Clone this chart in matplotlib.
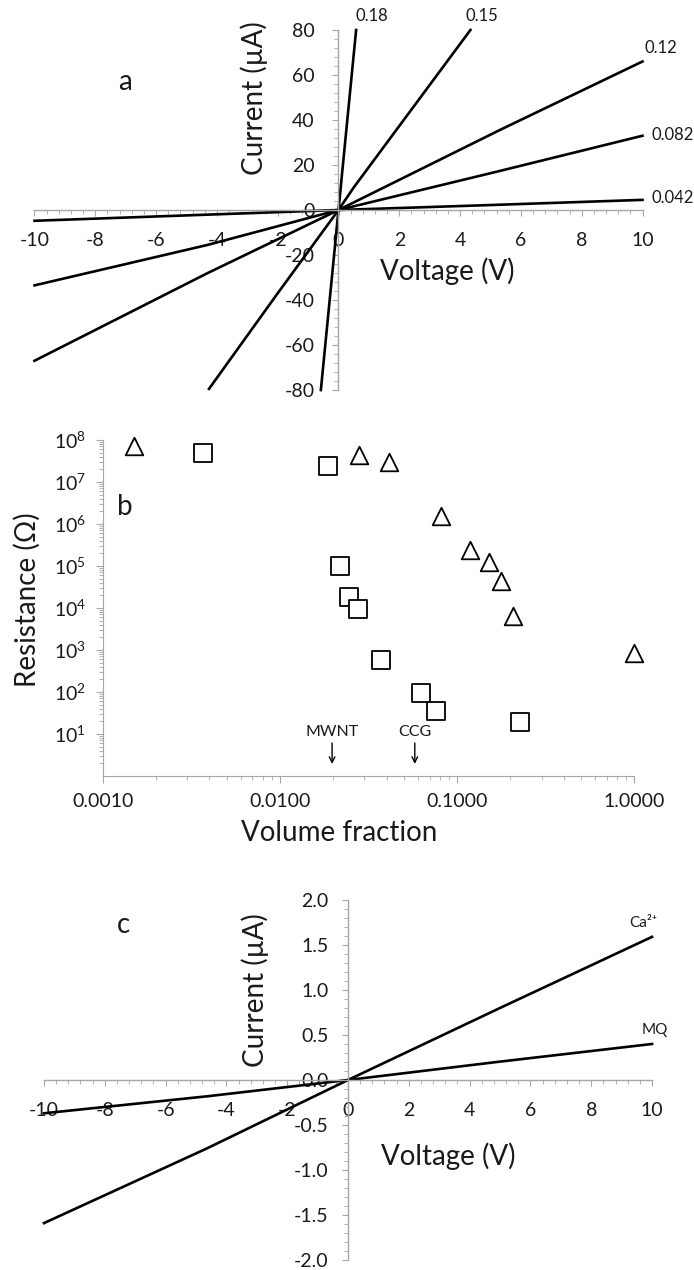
import matplotlib
matplotlib.use("Agg")
import matplotlib.pyplot as plt
from matplotlib.ticker import MultipleLocator, FixedLocator, FixedFormatter, LogLocator, NullFormatter, FormatStrFormatter

plt.rcParams['font.family'] = ['Lato', 'DejaVu Sans']
plt.rcParams['mathtext.fontset'] = 'custom'
plt.rcParams['mathtext.rm'] = 'Lato'
plt.rcParams['axes.unicode_minus'] = False

# panel a: I-V curves, labelled by volume fraction
a_labels = ['0.042', '0.082', '0.12', '0.15', '0.18']
a_v = [
    [-10, -5, 0, 5, 10],
    [-10, -4.3, 0, 5.2, 10],
    [-10, -4.3, 0, 5.3, 10],
    [-4.26, -2, 0, 0.5, 4.34],
    [-0.58, 0, 0.58],
]
a_i = [
    [-4.8, -2.4, 0, 2.2, 4.5],
    [-33.5, -15.5, 0, 17, 33],
    [-67, -28, 0, 35.5, 66],
    [-79.5, -37, 0, 10, 80],
    [-80, 0, 80],
]
a_label_pos = [(11.0, 5.2), (11.0, 33.3), (10.6, 72), (4.7, 86), (1.1, 86)]

# panel b: resistance vs volume fraction
tri_x = [0.0015, 0.0278, 0.0411, 0.0815, 0.118, 0.151, 0.177, 0.206, 1.0]
tri_y = [7.2e7, 4.4e7, 3.0e7, 1.55e6, 2.4e5, 1.27e5, 4.4e4, 6.5e3, 860]
sq_x = [0.0037, 0.0186, 0.0217, 0.0245, 0.0275, 0.0371, 0.0622, 0.0765, 0.227]
sq_y = [4.8e7, 2.4e7, 1.0e5, 1.86e4, 9.3e3, 580, 96, 36, 19.6]
b_arrows = [('MWNT', 0.0197), ('CCG', 0.0577)]
b_xticks = [0.001, 0.01, 0.1, 1.0]
b_xticklabels = ['0.0010', '0.0100', '0.1000', '1.0000']
b_yticks = [1e1, 1e2, 1e3, 1e4, 1e5, 1e6, 1e7, 1e8]
b_yticklabels = [r'$\mathregular{10^{%d}}$' % k for k in range(1, 9)]

# panel c: I-V curves for Ca2+ and MQ
c_labels = ['Ca²⁺', 'MQ']
c_v = [
    [-10, -4.64, 0, 5, 10],
    [-10, -4.6, 0, 4.9, 10],
]
c_i = [
    [-1.59, -0.76, 0, 0.80, 1.59],
    [-0.37, -0.18, 0, 0.20, 0.40],
]
c_label_pos = [(9.72, 1.74), (10.1, 0.56)]

axis_col = '#a6a6a6'
txt_col = '#1a1a1a'
tick_fs = 14
label_fs = 20

fig = plt.figure(figsize=(6.94, 12.7), dpi=100)


def cross_axes(ax):
    ax.spines['left'].set_position(('data', 0))
    ax.spines['bottom'].set_position(('data', 0))
    ax.spines['top'].set_visible(False)
    ax.spines['right'].set_visible(False)
    for s in ['left', 'bottom']:
        ax.spines[s].set_color(axis_col)
        ax.spines[s].set_linewidth(1.0)
    ax.tick_params(which='both', direction='out', color=axis_col, labelcolor=txt_col)
    ax.tick_params(which='major', length=4, labelsize=tick_fs)
    ax.tick_params(which='minor', length=3)
    ax.patch.set_visible(False)


# ---- panel a
ax1 = fig.add_axes([0.0497, 0.6929, 0.8761, 0.2835])
for v, i in zip(a_v, a_i):
    ax1.plot(v, i, color='black', lw=1.9, clip_on=False)
for lab, (x, y) in zip(a_labels, a_label_pos):
    ax1.text(x, y, lab, fontsize=12, color=txt_col, ha='center', va='center', clip_on=False)
ax1.set_xlim(-10, 10)
ax1.set_ylim(-80, 80)
cross_axes(ax1)
ax1.xaxis.set_major_locator(MultipleLocator(2))
ax1.xaxis.set_minor_locator(MultipleLocator(0.4))
ax1.yaxis.set_major_locator(MultipleLocator(20))
ax1.yaxis.set_minor_locator(MultipleLocator(4))
ax1.tick_params(axis='x', which='major', pad=12)
ax1.tick_params(axis='y', which='major', pad=13)
ax1.text(-7.03, 57, 'a', fontsize=label_fs, color=txt_col, ha='center', va='center')
ax1.text(-2.77, 49.6, 'Current (µA)', fontsize=label_fs, color=txt_col, rotation=90, ha='center', va='center')
ax1.text(3.57, -27.4, 'Voltage (V)', fontsize=label_fs, color=txt_col, ha='center', va='center')

# ---- panel b
ax2 = fig.add_axes([0.148, 0.389, 0.766, 0.2646])
ax2.scatter(tri_x, tri_y, marker='^', s=160, facecolors='white', edgecolors='black', linewidths=1.3, zorder=3, clip_on=False)
ax2.scatter(sq_x, sq_y, marker='s', s=160, facecolors='white', edgecolors='black', linewidths=1.3, zorder=3, clip_on=False)
ax2.set_xscale('log')
ax2.set_yscale('log')
ax2.set_xlim(0.001, 1.0)
ax2.set_ylim(1, 1e8)
for s in ['top', 'right']:
    ax2.spines[s].set_visible(False)
for s in ['left', 'bottom']:
    ax2.spines[s].set_color(axis_col)
ax2.xaxis.set_major_locator(FixedLocator(b_xticks))
ax2.xaxis.set_major_formatter(FixedFormatter(b_xticklabels))
ax2.xaxis.set_minor_locator(LogLocator(base=10, subs=range(2, 10)))
ax2.xaxis.set_minor_formatter(NullFormatter())
ax2.yaxis.set_major_locator(FixedLocator(b_yticks))
ax2.yaxis.set_major_formatter(FixedFormatter(b_yticklabels))
ax2.yaxis.set_minor_locator(LogLocator(base=10, subs=range(2, 10), numticks=20))
ax2.yaxis.set_minor_formatter(NullFormatter())
ax2.tick_params(which='both', direction='out', color=axis_col, labelcolor=txt_col)
ax2.tick_params(which='major', length=5, labelsize=tick_fs, pad=7)
ax2.tick_params(which='minor', length=3)
for lab, x in b_arrows:
    ax2.annotate('', xy=(x, 10 ** 0.22), xytext=(x, 10 ** 0.85),
                 arrowprops=dict(arrowstyle='->', color='black', lw=1.0))
    ax2.text(x, 10 ** 1.05, lab, fontsize=11.5, color=txt_col, ha='center', va='center')
ax2.text(0.00134, 2.5e6, 'b', fontsize=label_fs, color=txt_col, ha='center', va='center')
ax2.text(-0.1415, 0.524, 'Resistance (Ω)', fontsize=label_fs, color=txt_col, rotation=90,
         ha='center', va='center', transform=ax2.transAxes)
ax2.text(0.4445, -0.17, 'Volume fraction', fontsize=label_fs, color=txt_col,
         ha='center', va='center', transform=ax2.transAxes)

# ---- panel c
ax3 = fig.add_axes([0.0634, 0.00787, 0.8761, 0.2835])
for v, i in zip(c_v, c_i):
    ax3.plot(v, i, color='black', lw=1.9, clip_on=False)
for lab, (x, y) in zip(c_labels, c_label_pos):
    ax3.text(x, y, lab, fontsize=11, color=txt_col, ha='center', va='center', clip_on=False)
ax3.set_xlim(-10, 10)
ax3.set_ylim(-2, 2)
cross_axes(ax3)
ax3.xaxis.set_major_locator(MultipleLocator(2))
ax3.xaxis.set_minor_locator(MultipleLocator(0.4))
ax3.yaxis.set_major_locator(MultipleLocator(0.5))
ax3.yaxis.set_minor_locator(MultipleLocator(0.1))
ax3.yaxis.set_major_formatter(FormatStrFormatter('%.1f'))
ax3.tick_params(axis='x', which='major', pad=12)
ax3.tick_params(axis='y', which='major', pad=10)
ax3.text(-7.38, 1.72, 'c', fontsize=label_fs, color=txt_col, ha='center', va='center')
ax3.text(-3.06, 1.0, 'Current (µA)', fontsize=label_fs, color=txt_col, rotation=90, ha='center', va='center')
ax3.text(3.31, -0.85, 'Voltage (V)', fontsize=label_fs, color=txt_col, ha='center', va='center')

fig.savefig('out.png', dpi=100)
